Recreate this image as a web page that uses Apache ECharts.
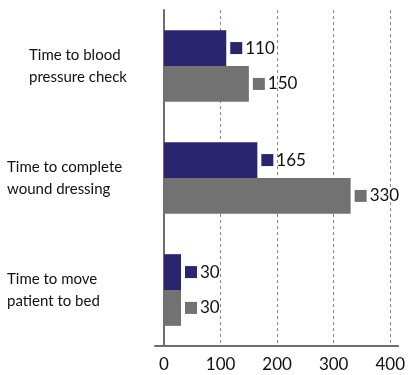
<!DOCTYPE html>
<html><head><meta charset="utf-8">
<script src="https://cdn.jsdelivr.net/npm/echarts@6/dist/echarts.min.js"></script>
<style>html,body{margin:0;padding:0;background:#fff}#c{width:408px;height:375px}</style>
</head><body><div id="c"></div>
<script>
const categories = ["Time to blood\npressure check", "Time to complete\nwound dressing", "Time to move\npatient to bed"];
const seriesA = [110, 165, 30];
const seriesB = [150, 330, 30];
const xTicks = [0, 100, 200, 300, 400];
const colorA = '#29266f';
const colorB = '#727272';
const FONT = 'Lato';

const chart = echarts.init(document.getElementById('c'), null, {renderer: 'canvas'});
function valLabel(color) {
  return {
    show: true, position: 'right', distance: 4,
    formatter: '{s|}{v|{c}}',
    rich: {
      s: {width: 12, height: 12, backgroundColor: color},
      v: {fontSize: 17, fontFamily: FONT, color: '#111', padding: [0, 0, 0, 3]}
    }
  };
}
chart.setOption({
  animation: false,
  grid: {left: 155, right: 8, top: 10, bottom: 29, containLabel: false},
  xAxis: {
    type: 'value', min: -16, max: 414,
    axisLine: {show: true, lineStyle: {color: '#6e6e6e', width: 2}},
    axisTick: {show: false, customValues: xTicks},
    axisLabel: {customValues: xTicks, color: '#111', fontSize: 17, fontFamily: FONT, margin: 10},
    splitLine: {show: true, lineStyle: {color: '#888', type: [3, 3], width: 1}}
  },
  yAxis: {
    type: 'category', data: categories, inverse: true,
    axisLine: {show: true, onZero: true, lineStyle: {color: '#6e6e6e', width: 2}},
    axisTick: {show: false},
    axisLabel: {
      align: 'left', margin: 148, color: '#111', fontSize: 15, fontFamily: FONT, lineHeight: 22,
      formatter: function (v, i) {
        const lines = v.split('\n');
        if (i === 0) return lines.map(l => '{p|' + l + '}').join('\n');
        return lines.map(l => '{n|' + l + '}').join('\n');
      },
      rich: {
        p: {fontSize: 15, fontFamily: FONT, color: '#111', lineHeight: 22, padding: [0, 0, 0, 22]},
        n: {fontSize: 15, fontFamily: FONT, color: '#111', lineHeight: 22}
      }
    }
  },
  series: [
    {type: 'bar', data: seriesA, itemStyle: {color: colorA}, barGap: '0%', barCategoryGap: '36%', label: valLabel(colorA)},
    {type: 'bar', data: seriesB, itemStyle: {color: colorB}, barGap: '0%', barCategoryGap: '36%', label: valLabel(colorB)}
  ]
});
</script></body></html>
